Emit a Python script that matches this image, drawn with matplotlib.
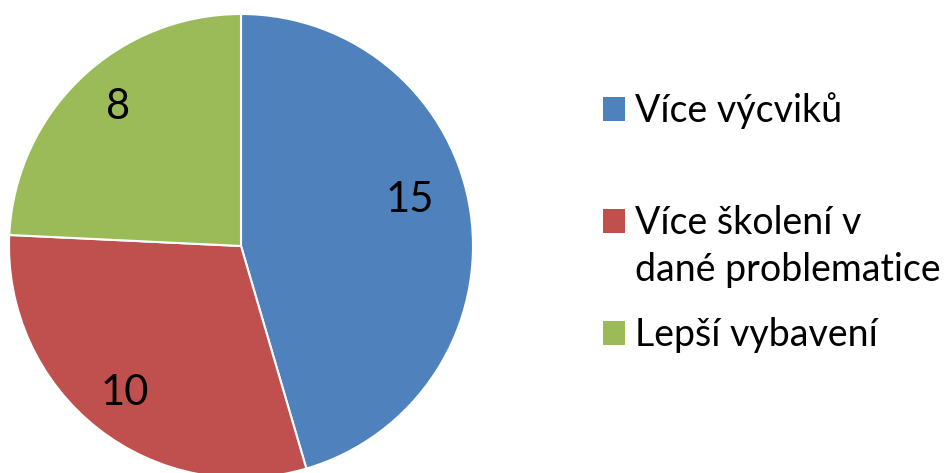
import matplotlib
matplotlib.use("Agg")
import matplotlib.pyplot as plt
from matplotlib.patches import Patch

categories = ["Více výcviků", "Více školení v\ndané problematice", "Lepší vybavení"]
values = [15, 10, 8]
colors = ["#4F81BD", "#C0504D", "#9BBB59"]

plt.rcParams['font.family'] = ['Lato', 'DejaVu Sans']

W, H = 945, 473
fig = plt.figure(figsize=(W/100, H/100), dpi=100)
cx, cy, r = 241, 246, 232
ax = fig.add_axes([(cx - r)/W, (H - cy - r)/H, 2*r/W, 2*r/H])
wedges, texts, autotexts = ax.pie(values, colors=colors, startangle=90, counterclock=False,
                                  radius=1, autopct=lambda p: f"{round(p*sum(values)/100)}",
                                  pctdistance=0.78,
                                  wedgeprops=dict(edgecolor="white", linewidth=1.5),
                                  textprops=dict(fontsize=30, color="black"))
# data-label placement (layout, in pixels of the reference)
label_px = [(410, 200), (125, 393), (118, 107)]
for t, (px, py) in zip(autotexts, label_px):
    t.set_position(((px - cx)/r, (cy - py)/r))
ax.set_xlim(-1, 1); ax.set_ylim(-1, 1)
ax.set_aspect('equal')
ax.axis('off')

# legend entries placed individually so the marker sits on the first line
fs = 27
em = fs * 100 / 72
ys = [111, 223, 335]
for cat, col, y in zip(categories, colors, ys):
    first = cat.split("\n")[0]
    fig.legend(handles=[Patch(facecolor=col)], labels=[first], loc='center left',
               bbox_to_anchor=(603/W, 1 - y/H), frameon=False, fontsize=fs,
               handlelength=22/em, handleheight=22/em, handletextpad=10/em,
               borderpad=0, borderaxespad=0)
    if "\n" in cat:
        fig.text(635/W, 1 - (y + 47)/H, cat.split("\n")[1], fontsize=fs, va='center', ha='left')

fig.savefig("out.png", dpi=100)
